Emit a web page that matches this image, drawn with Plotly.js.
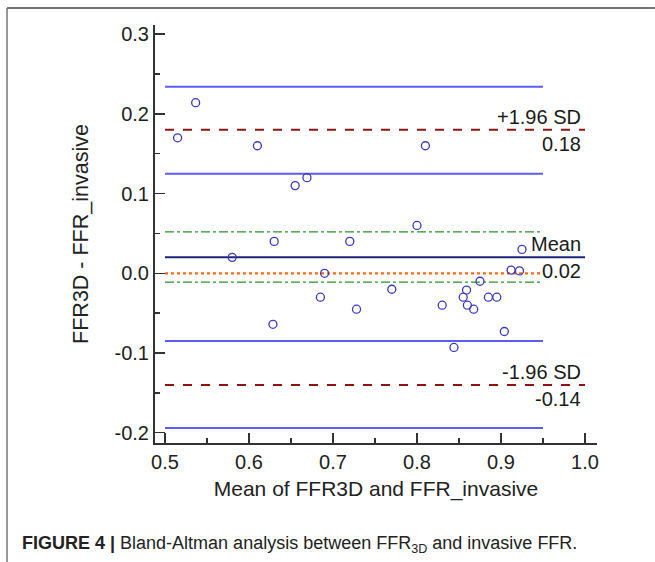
<!DOCTYPE html>
<html>
<head>
<meta charset="utf-8">
<script src="https://cdn.plot.ly/plotly-3.0.1.min.js"></script>
<style>
  html, body { margin: 0; padding: 0; background: #fff; }
  #chart { width: 655px; height: 562px; }
</style>
</head>
<body>
<div id="chart"></div>
<script>
// ---- Data ----
var meanVals = [0.5365, 0.515, 0.610, 0.655, 0.669, 0.810, 0.800, 0.630, 0.720, 0.580,
                0.925, 0.690, 0.912, 0.922, 0.875, 0.685, 0.770, 0.728, 0.830, 0.859,
                0.855, 0.860, 0.8675, 0.885, 0.895, 0.904, 0.844, 0.6285];
var diffVals = [0.214, 0.170, 0.160, 0.110, 0.120, 0.160, 0.060, 0.040, 0.040, 0.020,
                0.030, 0.000, 0.004, 0.003, -0.010, -0.030, -0.020, -0.045, -0.040, -0.021,
                -0.030, -0.040, -0.045, -0.030, -0.030, -0.073, -0.093, -0.064];

// reference lines: level, start x, end x
var refLineNames = ["Upper CI of +1.96 SD", "+1.96 SD", "Lower CI of +1.96 SD",
                    "Upper CI of mean", "Mean", "Zero", "Lower CI of mean",
                    "Upper CI of -1.96 SD", "-1.96 SD", "Lower CI of -1.96 SD"];
var refLineY     = [0.234, 0.180, 0.125, 0.052, 0.020, 0.000, -0.011, -0.085, -0.140, -0.194];
var refLineStart = [0.5, 0.5, 0.5, 0.5, 0.5, 0.5, 0.5, 0.5, 0.5, 0.5];
var refLineEnd   = [0.95, 1.0, 0.95, 0.95, 1.0, 0.95, 0.95, 0.95, 1.0, 0.95];

// line labels: text, level, side (above/below)
var labelTexts = ["+1.96 SD", "0.18", "Mean", "0.02", "-1.96 SD", "-0.14"];
var labelY     = [0.180, 0.180, 0.020, 0.020, -0.140, -0.140];
var labelSide  = ["above", "below", "above", "below", "above", "below"];

var xTickVals = [0.5, 0.6, 0.7, 0.8, 0.9, 1.0];
var xTickText = ["0.5", "0.6", "0.7", "0.8", "0.9", "1.0"];
var yTickVals = [-0.2, -0.1, 0.0, 0.1, 0.2, 0.3];
var yTickText = ["-0.2", "-0.1", "0.0", "0.1", "0.2", "0.3"];

// ---- Styles ----
var lineStyles = [
  {color: "#5c5cf6", width: 2, dash: "solid"},
  {color: "#8b1414", width: 2, dash: "dash"},
  {color: "#5c5cf6", width: 2, dash: "solid"},
  {color: "#2f8f2f", width: 1.2, dash: "dashdot"},
  {color: "#1c237a", width: 2, dash: "solid"},
  {color: "#ff6a10", width: 2.2, dash: "dot"},
  {color: "#2f8f2f", width: 1.2, dash: "dashdot"},
  {color: "#5c5cf6", width: 2, dash: "solid"},
  {color: "#8b1414", width: 2, dash: "dash"},
  {color: "#5c5cf6", width: 2, dash: "solid"}
];

var FONT = "Liberation Sans, Arial, Helvetica, sans-serif";

var traces = [];
for (var i = 0; i < refLineY.length; i++) {
  traces.push({
    type: "scatter", mode: "lines", name: refLineNames[i],
    x: [refLineStart[i], refLineEnd[i]],
    y: [refLineY[i], refLineY[i]],
    line: lineStyles[i], hoverinfo: "skip"
  });
}
traces.push({
  type: "scatter", mode: "markers", name: "Differences",
  x: meanVals, y: diffVals,
  marker: {symbol: "circle-open", size: 8, color: "#3a3abf", line: {width: 1.3, color: "#3a3abf"}}
});

var annotations = [];
for (var j = 0; j < labelTexts.length; j++) {
  annotations.push({
    xref: "x", yref: "y", x: 1.0, y: labelY[j],
    text: labelTexts[j], showarrow: false,
    xanchor: "right", yanchor: "middle",
    xshift: -2, yshift: labelSide[j] === "above" ? 13 : -14,
    font: {family: FONT, size: 20, color: "#1a1a1a"}
  });
}
// caption
annotations.push({
  xref: "paper", yref: "paper", x: -0.3055, y: -0.2440,
  xanchor: "left", yanchor: "middle", showarrow: false, align: "left",
  text: "<b>FIGURE 4 |</b> Bland-Altman analysis between FFR<sub>3D</sub> and invasive FFR.",
  font: {family: FONT, size: 18, color: "#222"}
});

var layout = {
  width: 655, height: 562,
  margin: {l: 155, r: 58, t: 25, b: 119},
  paper_bgcolor: "#fff", plot_bgcolor: "#fff",
  showlegend: false,
  font: {family: FONT, size: 20, color: "#222"},
  xaxis: {
    range: [0.4881, 1.0143], showgrid: false, zeroline: false,
    showline: true, linecolor: "#333", linewidth: 2,
    ticks: "inside", ticklen: 10, tickwidth: 1.5, tickcolor: "#333",
    tickmode: "array", tickvals: xTickVals, ticktext: xTickText,
    minor: {ticks: "inside", ticklen: 5, tickwidth: 1.5, tickcolor: "#333", dtick: 0.05, tick0: 0},
    tickfont: {family: FONT, size: 20, color: "#222"},
    title: {text: "Mean of FFR3D and FFR_invasive", font: {family: FONT, size: 21, color: "#222"}, standoff: 9},
    fixedrange: true
  },
  yaxis: {
    range: [-0.2129, 0.3115], showgrid: false, zeroline: false,
    showline: true, linecolor: "#333", linewidth: 2,
    ticks: "inside", ticklen: 10, tickwidth: 1.5, tickcolor: "#333",
    tickmode: "array", tickvals: yTickVals, ticktext: yTickText,
    minor: {ticks: "inside", ticklen: 5, tickwidth: 1.5, tickcolor: "#333", dtick: 0.05, tick0: 0},
    tickfont: {family: FONT, size: 20, color: "#222"},
    title: {text: "FFR3D - FFR_invasive", font: {family: FONT, size: 21.5, color: "#222"}, standoff: 20},
    fixedrange: true
  },
  shapes: [
    {type: "line", xref: "paper", yref: "paper", x0: -0.3348, x1: 1.1312, y0: 1.0407, y1: 1.0407,
     line: {color: "#444", width: 1.5}},
    {type: "line", xref: "paper", yref: "paper", x0: -0.3348, x1: -0.3348, y0: 1.0407, y1: -0.2847,
     line: {color: "#777", width: 1.5}}
  ],
  annotations: annotations
};

Plotly.newPlot("chart", traces, layout, {displayModeBar: false, staticPlot: true});
</script>
</body>
</html>
